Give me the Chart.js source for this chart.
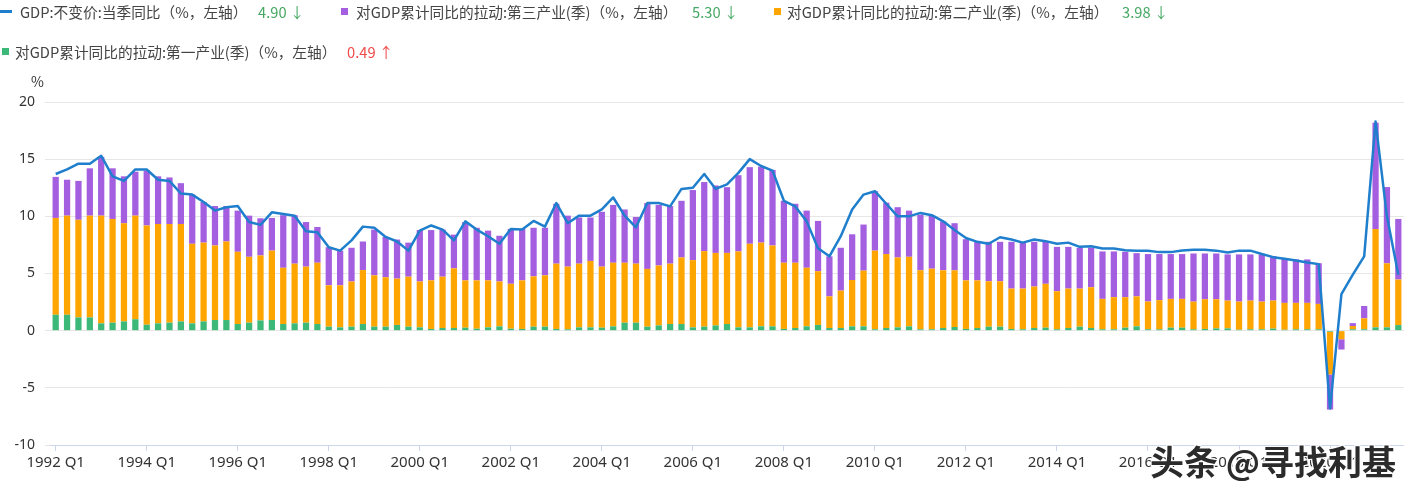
<!DOCTYPE html>
<html>
<head>
<meta charset="utf-8">
<script src="https://cdn.jsdelivr.net/npm/chart.js@4.4.1/dist/chart.umd.min.js"></script>
<style>
  html, body { margin: 0; padding: 0; background: #fff; overflow: hidden; }
  body { width: 1404px; height: 489px; position: relative; font-family: "Noto Sans CJK SC", "Noto Sans", sans-serif; }
  #wrap { position: absolute; left: 0; top: 0; width: 1404px; height: 489px; }
  .lg { position: absolute; font-size: 14.7px; color: #444; white-space: nowrap; line-height: 20px; }
  .mk { position: absolute; }
  .up { color: #f04a4a; }
  .down { color: #46a864; }
  .unit { position: absolute; left: 31px; top: 71px; font-size: 14px; color: #333; }
  .wm { position: absolute; left: 1150px; top: 436px; font-size: 34px; font-weight: bold; color: #2b2b2b;
        text-shadow: -1px -1px 0 #fff, 1px -1px 0 #fff, -1px 1px 0 #fff, 1px 1px 0 #fff; white-space: nowrap; }
</style>
</head>
<body>
<div id="wrap"><canvas id="gdpChart" width="1404" height="489"></canvas></div>

<div class="mk" style="left:0;top:10px;width:12px;height:3px;background:#1f7fcc"></div>
<div class="lg" style="left:20px;top:2px">GDP:不变价:当季同比（%，左轴）</div>
<div class="lg down" style="left:258px;top:2px">4.90 ↓</div>

<div class="mk" style="left:341px;top:8px;width:7px;height:7px;background:#a45fe0"></div>
<div class="lg" style="left:356px;top:2px">对GDP累计同比的拉动:第三产业(季)（%，左轴）</div>
<div class="lg down" style="left:692px;top:2px">5.30 ↓</div>

<div class="mk" style="left:774px;top:8px;width:7px;height:7px;background:#ffa500"></div>
<div class="lg" style="left:787px;top:2px">对GDP累计同比的拉动:第二产业(季)（%，左轴）</div>
<div class="lg down" style="left:1122px;top:2px">3.98 ↓</div>

<div class="mk" style="left:2px;top:48px;width:7px;height:7px;background:#3cb878"></div>
<div class="lg" style="left:15px;top:42px">对GDP累计同比的拉动:第一产业(季)（%，左轴）</div>
<div class="lg up" style="left:347px;top:42px">0.49 ↑</div>

<div class="unit">%</div>

<script>
// 1992 Q1 .. 2021 Q3
const quarters = [];
for (let y = 1992; y <= 2021; y++) {
    for (let q = 1; q <= 4; q++) {
        if (y === 2021 && q > 3) break;
        quarters.push(y + ' Q' + q);
    }
}

// GDP 当季同比
const gdpYoy = [
    13.7, 14.1, 14.6, 14.6,   15.3, 13.5, 13.1, 14.1,   14.1, 13.2, 13.1, 12.0,
    11.9, 11.25, 10.5, 10.8,  10.9, 9.5, 9.25, 10.35,   10.2, 10.06, 8.7, 8.6,
    7.3, 7.0, 7.9, 9.1,       9.0, 8.2, 7.8, 7.0,       8.75, 9.2, 8.84, 7.9,
    9.56, 8.84, 8.26, 7.6,    8.9, 8.84, 9.6, 9.1,      11.16, 9.4, 10.06, 10.06,
    10.6, 11.65, 10.06, 9.04, 11.16, 11.16, 10.87, 12.4, 12.5, 13.7, 12.4, 12.8,
    13.8, 15.0, 14.4, 14.0,   11.36, 10.87, 9.56, 7.2,  6.5, 8.26, 10.6, 11.9,
    12.2, 11.1, 10.0, 10.0,   10.3, 10.1, 9.56, 8.8,    8.1, 7.77, 7.6, 8.17,
    7.97, 7.7, 7.97, 7.83,    7.6, 7.7, 7.33, 7.39,     7.19, 7.19, 7.04, 6.99,
    6.99, 6.87, 6.87, 7.01,   7.08, 7.08, 7.0, 6.84,    7.0, 7.0, 6.7, 6.43,
    6.29, 6.14, 5.96, 5.82,   -6.8, 3.2, 4.9, 6.5,      18.3, 10.0, 4.9
];

// 第一产业拉动
const primary = [
    1.39, 1.39, 1.16, 1.16,   0.64, 0.7, 0.81, 1.0,     0.52, 0.64, 0.7, 0.81,
    0.64, 0.81, 0.93, 0.93,   0.58, 0.7, 0.9, 0.93,     0.58, 0.64, 0.7, 0.58,
    0.35, 0.29, 0.35, 0.58,   0.35, 0.35, 0.5, 0.35,    0.29, 0.15, 0.23, 0.23,
    0.26, 0.17, 0.29, 0.38,   0.17, 0.15, 0.35, 0.35,   0.15, 0.12, 0.29, 0.29,
    0.26, 0.38, 0.7, 0.7,     0.35, 0.46, 0.58, 0.58,   0.29, 0.35, 0.46, 0.58,
    0.29, 0.29, 0.38, 0.38,   0.15, 0.23, 0.38, 0.5,    0.23, 0.23, 0.38, 0.38,
    0.12, 0.23, 0.29, 0.38,   0.12, 0.12, 0.23, 0.32,   0.15, 0.23, 0.35, 0.35,
    0.15, 0.12, 0.23, 0.26,   0.12, 0.23, 0.35, 0.23,   0.12, 0.12, 0.26, 0.38,
    0.12, 0.12, 0.26, 0.26,   0.12, 0.15, 0.2, 0.2,     0.08, 0.12, 0.12, 0.18,
    0.08, 0.12, 0.12, 0.12,   -0.1, 0.05, 0.12, 0.12,   0.29, 0.29, 0.49
];

// 第二产业拉动
const secondary = [
    8.47, 8.67, 8.54, 8.9,    9.42, 9.07, 8.59, 9.06,   8.68, 8.69, 8.63, 8.52,
    6.96, 6.89, 6.52, 6.87,   6.32, 5.76, 5.68, 6.07,   4.92, 5.22, 4.9, 5.36,
    3.62, 3.68, 3.95, 4.72,   4.49, 4.32, 4.05, 4.37,   4.01, 4.25, 4.49, 5.22,
    4.14, 4.23, 4.11, 3.92,   3.93, 4.25, 4.4, 4.49,    5.71, 5.48, 5.57, 5.81,
    5.34, 5.56, 5.24, 5.16,   5.05, 5.24, 5.28, 5.82,   5.88, 6.61, 6.34, 6.22,
    6.64, 7.31, 7.32, 7.07,   5.79, 5.71, 5.12, 4.7,    2.77, 3.27, 4.05, 4.87,
    6.88, 6.47, 6.11, 6.08,   5.16, 5.3, 5.05, 4.96,    4.25, 4.17, 3.97, 3.97,
    3.53, 3.56, 3.63, 3.84,   3.33, 3.45, 3.33, 3.57,   2.66, 2.81, 2.67, 2.62,
    2.43, 2.55, 2.52, 2.52,   2.42, 2.6, 2.55, 2.43,    2.46, 2.51, 2.42, 2.45,
    2.35, 2.31, 2.31, 2.22,   -3.73, -0.75, 0.29, 0.96, 8.6, 5.6, 3.98
];

// 第三产业拉动
const tertiary = [
    3.59, 3.14, 3.4, 4.14,    5.14, 4.43, 4.1, 3.84,    4.8, 4.17, 4.07, 3.57,
    4.3, 3.55, 3.45, 3.1,     3.6, 3.6, 3.25, 2.86,     4.6, 4.24, 3.9, 3.13,
    3.33, 3.03, 2.95, 2.5,    4.0, 3.53, 3.42, 2.98,    4.5, 4.4, 4.12, 2.95,
    5.1, 4.6, 4.35, 4.0,      4.8, 4.5, 4.25, 4.16,     5.24, 4.46, 4.04, 3.8,
    4.8, 5.06, 4.66, 4.08,    5.76, 5.3, 5.04, 4.96,    6.13, 6.04, 5.9, 5.75,
    6.67, 6.7, 6.65, 6.61,    5.42, 5.16, 5.0, 4.4,     3.5, 3.75, 4.0, 4.03,
    5.2, 4.5, 4.4, 4.04,      4.87, 4.64, 4.28, 4.12,   3.6, 3.43, 3.45, 3.45,
    4.09, 4.02, 3.91, 3.67,   3.88, 3.65, 3.57, 3.45,   4.15, 4.0, 3.97, 3.78,
    4.15, 4.03, 3.92, 3.92,   4.21, 4.0, 4.0, 4.04,     4.13, 4.04, 4.13, 3.89,
    3.92, 3.8, 3.8, 3.56,     -3.07, -0.9, 0.25, 1.08,  9.3, 6.67, 5.3
];

const ctx = document.getElementById('gdpChart').getContext('2d');

new Chart(ctx, {
    type: 'bar',
    data: {
        labels: quarters,
        datasets: [
            {
                type: 'line',
                label: 'GDP:不变价:当季同比',
                data: gdpYoy,
                borderColor: '#1f7fcc',
                borderWidth: 2.5,
                borderJoinStyle: 'round',
                pointRadius: 0,
                tension: 0,
                fill: false,
                stack: 'gdp',
                order: 0
            },
            {
                label: '第一产业',
                data: primary,
                backgroundColor: '#3cb878',
                stack: 'ind',
                order: 1
            },
            {
                label: '第二产业',
                data: secondary,
                backgroundColor: '#ffa500',
                stack: 'ind',
                order: 1
            },
            {
                label: '第三产业',
                data: tertiary,
                backgroundColor: '#a45fe0',
                stack: 'ind',
                order: 1
            }
        ]
    },
    options: {
        responsive: false,
        animation: false,
        datasets: {
            bar: { barPercentage: 0.55, categoryPercentage: 1 }
        },
        layout: { padding: { top: 102, bottom: 14, left: 0, right: 0 } },
        plugins: {
            legend: { display: false },
            tooltip: { enabled: false }
        },
        scales: {
            x: {
                stacked: true,
                offset: true,
                grid: { offset: false, drawOnChartArea: false, drawTicks: true, tickLength: 6, color: '#ccd6eb' },
                border: { color: '#ccd6eb' },
                ticks: {
                    autoSkip: false,
                    maxRotation: 0,
                    padding: 3,
                    color: '#333',
                    font: { family: 'Noto Sans', size: 15 }
                },
                afterBuildTicks: axis => {
                    axis.ticks = axis.ticks.filter(t => t.value % 8 === 0);
                }
            },
            y: {
                stacked: true,
                min: -10,
                max: 20,
                ticks: {
                    stepSize: 5,
                    padding: 10,
                    color: '#333',
                    font: { family: 'Noto Sans', size: 14 }
                },
                grid: { color: '#e6e6e6', tickLength: 5 },
                border: { display: false },
                afterFit: scale => { scale.width = 50; }
            }
        }
    }
});
</script>

<div class="wm">头条 @寻找利基</div>
</body>
</html>
